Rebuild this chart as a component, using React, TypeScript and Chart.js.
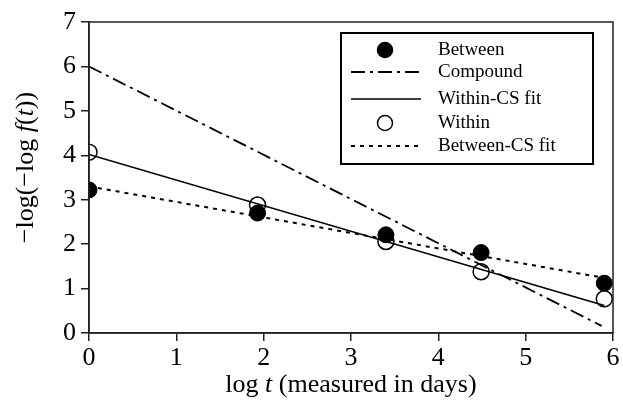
import React, { useEffect, useRef } from "react";
import { Chart, registerables } from "chart.js";
Chart.register(...registerables);

const xObs = [0, 1.93, 3.4, 4.49, 5.9];
const betweenVals = [3.22, 2.7, 2.21, 1.81, 1.12];
const withinVals = [4.07, 2.88, 2.06, 1.38, 0.77];
const compoundX = [0, 5.87];
const compoundY = [6.0, 0.16];
const withinFitX = [0, 5.9];
const withinFitY = [4.02, 0.62];
const betweenFitX = [0, 5.9];
const betweenFitY = [3.3, 1.24];
const xTicks = [0, 1, 2, 3, 4, 5, 6];
const yTicks = [0, 1, 2, 3, 4, 5, 6, 7];

const SERIF = "'Liberation Serif', 'Times New Roman', serif";

const pts = (xs: number[], ys: number[]) => xs.map((x, i) => ({ x, y: ys[i] }));

function drawMixed(ctx: CanvasRenderingContext2D, parts: [string, boolean][], size: number, cx: number, cy: number) {
  const fontOf = (it: boolean) => `${it ? "italic " : ""}${size}px ${SERIF}`;
  let total = 0;
  for (const [t, it] of parts) { ctx.font = fontOf(it); total += ctx.measureText(t).width; }
  let x = cx - total / 2;
  ctx.textBaseline = "middle";
  ctx.textAlign = "left";
  for (const [t, it] of parts) { ctx.font = fontOf(it); ctx.fillText(t, x, cy); x += ctx.measureText(t).width; }
}

const framePlugin = {
  id: "frameAndExtras",
  afterDatasetsDraw(chart: any) {
    const { ctx, chartArea: a } = chart;
    ctx.save();
    ctx.strokeStyle = "#222";
    ctx.lineWidth = 1.5;
    ctx.strokeRect(a.left, a.top, a.right - a.left, a.bottom - a.top);
    ctx.restore();
  },
  afterDraw(chart: any) {
    const { ctx, chartArea: a } = chart;
    ctx.save();
    ctx.fillStyle = "#000";
    // axis titles
    drawMixed(ctx, [["log ", false], ["t", true], [" (measured in days)", false]], 26, (a.left + a.right) / 2, 385);
    ctx.save();
    ctx.translate(26, (a.top + a.bottom) / 2 - 10);
    ctx.rotate(-Math.PI / 2);
    drawMixed(ctx, [["\u2212log(\u2212log ", false], ["f", true], ["(", false], ["t", true], ["))", false]], 26, 0, 0);
    ctx.restore();

    // legend
    const bx = a.right - 272, by = a.top + 11, bw = 252, bh = 131;
    ctx.strokeStyle = "#000";
    ctx.lineWidth = 2;
    ctx.strokeRect(bx, by, bw, bh);
    const sampleL = bx + 10, sampleR = bx + 80, sampleC = bx + 44, textX = bx + 97;
    const rowY = [by + 17, by + 39, by + 66, by + 90, by + 113];
    const order = [0, 2, 3, 1, 4];
    order.forEach((di, r) => {
      const ds = chart.data.datasets[di];
      const y = rowY[r];
      ctx.save();
      if (ds.showLine === false) {
        ctx.beginPath();
        ctx.arc(sampleC, y, 7.5, 0, Math.PI * 2);
        if (ds.pointBackgroundColor !== "transparent") { ctx.fillStyle = "#000"; ctx.fill(); }
        ctx.strokeStyle = "#000"; ctx.lineWidth = 1.5; ctx.stroke();
      } else {
        ctx.beginPath();
        ctx.setLineDash(ds.borderDash || []);
        ctx.lineWidth = ds.borderWidth;
        ctx.strokeStyle = "#000";
        ctx.moveTo(sampleL, y); ctx.lineTo(sampleR, y); ctx.stroke();
      }
      ctx.restore();
      ctx.font = `19px ${SERIF}`;
      ctx.fillStyle = "#000";
      ctx.textBaseline = "middle";
      ctx.textAlign = "left";
      ctx.fillText(ds.label, textX, y);
    });
    ctx.restore();
  },
};

export default function App() {
  const ref = useRef<HTMLCanvasElement>(null);
  useEffect(() => {
    const chart = new Chart(ref.current!, {
      type: "scatter",
      data: {
        datasets: [
          {
            label: "Between", data: pts(xObs, betweenVals), showLine: false,
            pointRadius: 8, pointBackgroundColor: "#000", pointBorderColor: "#000", pointBorderWidth: 1, order: 0,
          },
          {
            label: "Within", data: pts(xObs, withinVals), showLine: false,
            pointRadius: 8, pointBackgroundColor: "transparent", pointBorderColor: "#000", pointBorderWidth: 1.5, order: 1,
          },
          {
            label: "Compound", data: pts(compoundX, compoundY), showLine: true, pointRadius: 0,
            borderColor: "#000", borderWidth: 1.8, borderDash: [14, 5, 3, 5], order: 2,
          },
          {
            label: "Within-CS fit", data: pts(withinFitX, withinFitY), showLine: true, pointRadius: 0,
            borderColor: "#000", borderWidth: 1.5, order: 3,
          },
          {
            label: "Between-CS fit", data: pts(betweenFitX, betweenFitY), showLine: true, pointRadius: 0,
            borderColor: "#000", borderWidth: 2, borderDash: [4, 5], order: 4,
          },
        ],
      },
      options: {
        animation: false,
        responsive: false,
        layout: { padding: { left: 0, top: 22, right: 10, bottom: 0 } },
        plugins: { legend: { display: false }, tooltip: { enabled: false } },
        scales: {
          x: {
            type: "linear", min: 0, max: 6,
            afterFit: (s: any) => { s.height = 67; },
            afterBuildTicks: (s: any) => { s.ticks = xTicks.map((v) => ({ value: v })); },
            border: { display: true, color: "#222", width: 1.5 },
            grid: { display: true, drawOnChartArea: false, drawTicks: true, tickLength: 8, color: "#222", lineWidth: 1.5 },
            ticks: { color: "#000", font: { family: SERIF, size: 26 }, padding: 2, maxRotation: 0 },
          },
          y: {
            type: "linear", min: 0, max: 7,
            afterFit: (s: any) => { s.width = 89; },
            afterBuildTicks: (s: any) => { s.ticks = yTicks.map((v) => ({ value: v })); },
            border: { display: true, color: "#222", width: 1.5 },
            grid: { display: true, drawOnChartArea: false, drawTicks: true, tickLength: 8, color: "#222", lineWidth: 1.5 },
            ticks: { color: "#000", font: { family: SERIF, size: 26 }, padding: 5 },
          },
        },
      },
      plugins: [framePlugin],
    } as any);
    return () => chart.destroy();
  }, []);
  return (
    <div style={{ position: "fixed", left: 0, top: 0, width: 623, height: 400, background: "#fff" }}>
      <canvas ref={ref} width={623} height={400} style={{ width: 623, height: 400, display: "block" }} />
    </div>
  );
}
